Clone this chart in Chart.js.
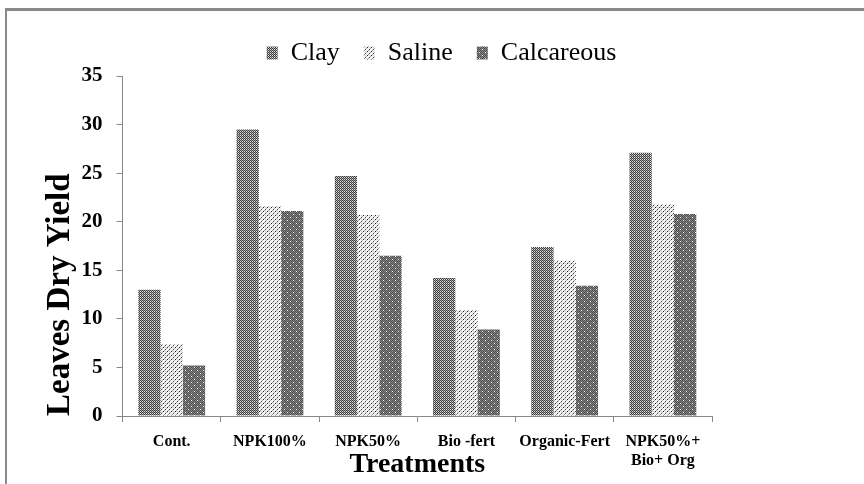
<!DOCTYPE html>
<html>
<head>
<meta charset="utf-8">
<script src="https://cdn.jsdelivr.net/npm/chart.js@4.4.0/dist/chart.umd.min.js"></script>
<style>
html, body { margin: 0; padding: 0; background: #fff; }
#frame {
    position: absolute;
    left: 5px; top: 8px;
    width: 859px; height: 476px;
    border-top: 3px solid #8a8a8a;
    border-left: 2px solid #8a8a8a;
}
#wrap { position: absolute; left: 0; top: 0; width: 857px; height: 473px; }
</style>
</head>
<body>
<div id="frame"><div id="wrap"><canvas id="chart"></canvas></div></div>
<script>

// ======================
// DATA
// ======================

const treatments = [
    "Cont.",
    "NPK100%",
    "NPK50%",
    "Bio -fert",
    "Organic-Fert",
    ["NPK50%+", "Bio+ Org"]
];

const clay = [13.0, 29.5, 24.7, 14.2, 17.4, 27.1];
const saline = [7.4, 21.6, 20.7, 10.9, 16.0, 21.8];
const calcareous = [5.2, 21.1, 16.5, 8.9, 13.4, 20.8];

const yTicks = [0, 5, 10, 15, 20, 25, 30, 35];

// ======================
// PATTERNS
// ======================

function makePattern(size, base, dots){
    const c = document.createElement("canvas");
    c.width = size;
    c.height = size;
    const ctx = c.getContext("2d");
    ctx.fillStyle = base;
    ctx.fillRect(0, 0, size, size);
    dots.forEach(d => {
        ctx.fillStyle = d[2];
        ctx.fillRect(d[0], d[1], 1, 1);
    });
    return ctx.createPattern(c, "repeat");
}

// clay: dense checker
const clayDots = [];
for(let y = 0; y < 4; y++){
    for(let x = 0; x < 4; x++){
        if((x + y) % 2 === 0) clayDots.push([x, y, "#3c3c3c"]);
        else if(x % 2 === 1 && y % 2 === 0) clayDots.push([x, y, "#e6e6e6"]);
    }
}
const clayFill = makePattern(4, "#a0a0a0", clayDots);

// saline: sparse dots on white
const salineFill = makePattern(4, "#f4f4f4", [
    [0, 0, "#222"], [2, 2, "#444"], [1, 3, "#999"], [3, 1, "#aaa"], [2, 0, "#ccc"]
]);

// calcareous: dark checker with white dots
const calcDots = [];
for(let y = 0; y < 6; y++){
    for(let x = 0; x < 6; x++){
        if((x + y) % 2 === 0) calcDots.push([x, y, "#4a4a4a"]);
    }
}
calcDots.push([1, 2, "#ffffff"]);
calcDots.push([4, 5, "#ffffff"]);
const calcFill = makePattern(6, "#8a8a8a", calcDots);

// ======================
// CHART
// ======================

const serif = "'Liberation Serif', 'Times New Roman', serif";

new Chart(
document.getElementById("chart"),
{
type: "bar",
data: {
labels: treatments,
datasets: [
{ label: "Clay", data: clay, backgroundColor: clayFill, borderWidth: 0 },
{ label: "Saline", data: saline, backgroundColor: salineFill, borderWidth: 0 },
{ label: "Calcareous", data: calcareous, backgroundColor: calcFill, borderWidth: 0 }
]
},
options: {
responsive: true,
maintainAspectRatio: false,
animation: false,
layout: {
    padding: { left: 34, right: 22, top: 5, bottom: 0 }
},
datasets: {
    bar: { categoryPercentage: 0.68, barPercentage: 1.0 }
},
plugins: {
    tooltip: { enabled: false },
    legend: {
        position: "top",
        labels: {
            color: "#000",
            font: { family: serif, size: 26 },
            boxWidth: 11,
            boxHeight: 13,
            padding: 24
        }
    }
},
scales: {
    x: {
        grid: {
            display: true,
            drawOnChartArea: false,
            color: "#888",
            tickLength: 6,
            offset: true
        },
        border: { color: "#888", width: 1 },
        ticks: {
            color: "#000",
            font: { family: serif, size: 16, weight: "bold", lineHeight: 1.2 },
            padding: 10,
            maxRotation: 0
        },
        title: {
            display: true,
            text: "Treatments",
            color: "#000",
            font: { family: serif, size: 28, weight: "bold" },
            padding: { top: -32, bottom: 2 }
        }
    },
    y: {
        min: 0,
        max: 35,
        afterBuildTicks: axis => {
            axis.ticks = yTicks.map(v => ({ value: v }));
        },
        grid: {
            display: true,
            drawOnChartArea: false,
            color: "#888",
            tickLength: 6
        },
        border: { color: "#888", width: 1 },
        ticks: {
            color: "#000",
            font: { family: serif, size: 21, weight: "bold" },
            padding: 14
        },
        title: {
            display: true,
            text: "Leaves Dry Yield",
            align: "start",
            color: "#000",
            font: { family: serif, size: 33, weight: "bold" },
            padding: { top: 0, bottom: -13 }
        }
    },
    // empty space to the right of the plot
    spacer: {
        type: "linear",
        position: "right",
        display: true,
        grid: { display: false },
        border: { display: false },
        ticks: { display: false },
        afterFit: axis => { axis.width = 130; }
    }
}
}
}
);

</script>
</body>
</html>
